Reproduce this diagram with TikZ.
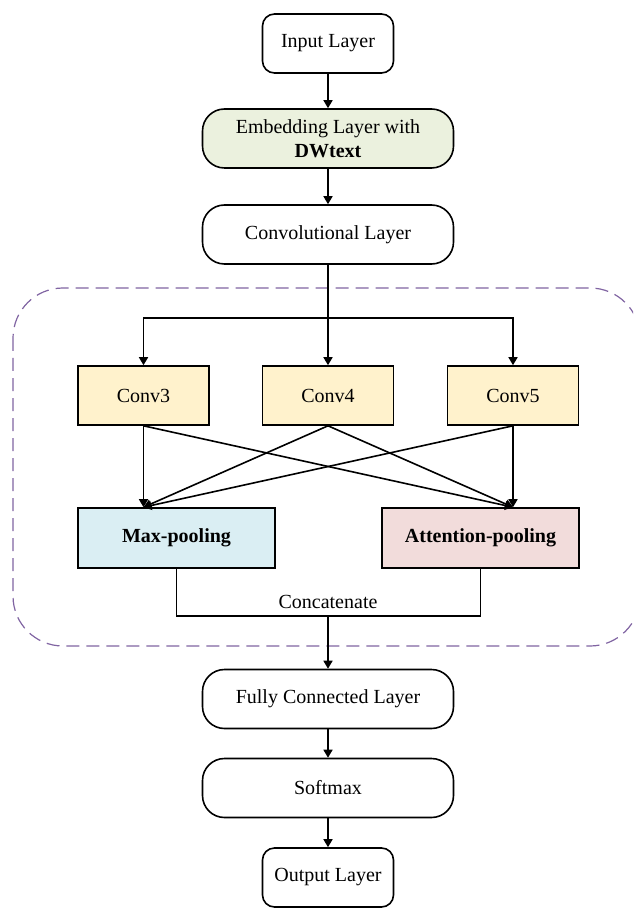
\documentclass[tikz,border=0pt]{standalone}
\usepackage{fontspec}
\setmainfont{Liberation Serif}
\usetikzlibrary{arrows.meta}
\definecolor{embfill}{HTML}{EBF1DE}
\definecolor{convfill}{HTML}{FFF2CC}
\definecolor{maxfill}{HTML}{DAEEF3}
\definecolor{attfill}{HTML}{F2DCDB}
\definecolor{grpline}{HTML}{8064A2}
\tikzset{
	layer/.style = {draw, line width=0.8pt, rounded corners=11pt, minimum width=125.5pt, minimum height=29.5pt, inner sep=0pt, align=center},
	io/.style = {draw, line width=0.8pt, rounded corners=6pt, minimum width=65.5pt, minimum height=29.5pt, inner sep=0pt},
	convbox/.style = {draw, line width=0.8pt, fill=convfill, minimum width=65.5pt, minimum height=29.5pt, inner sep=0pt},
	poolbox/.style = {draw, line width=0.8pt, minimum width=98.5pt, minimum height=30pt, inner sep=0pt, font=\bfseries},
	link/.style = {line width=0.8pt}
}
\begin{document}
\begin{tikzpicture}[x=0.5pt, y=-0.5pt, >={Triangle[length=4pt,width=4.5pt]}, font=\fontsize{10pt}{12pt}\selectfont]
				\clip (0,0) rectangle (633,908);
				%dashed group
				\draw[grpline, line width=0.6pt, dash pattern=on 6.5pt off 3.5pt, rounded corners=25pt] (13,288) rectangle (640,646);
				%layers
				\node[io] (input) at (328,43.5) {Input Layer};
				\node[layer, fill=embfill] (emb) at (328,138.5) {Embedding Layer with\\\textbf{DWtext}};
				\node[layer] (conv) at (328,234.5) {Convolutional Layer};
				\node[convbox] (conv3) at (143.5,395.5) {Conv3};
				\node[convbox] (conv4) at (328,395.5) {Conv4};
				\node[convbox] (conv5) at (513,395.5) {Conv5};
				\node[poolbox, fill=maxfill] (maxp) at (176.5,538) {Max-pooling};
				\node[poolbox, fill=attfill] (attp) at (480.5,538) {Attention-pooling};
				\node[layer] (fc) at (328,699) {Fully Connected Layer};
				\node[layer] (soft) at (328,788) {Softmax};
				\node[io] (out) at (328,877.5) {Output Layer};
				\coordinate (split) at (328,318);
				\coordinate (cat) at (328,616);
				%main line
				\draw[link, ->] (input) -- (emb);
				\draw[link, ->] (emb) -- (conv);
				\draw[link, ->] (conv) -- (conv4);
				\draw[link, ->] (split) -| (conv3);
				\draw[link, ->] (split) -| (conv5);
				%convs to pooling
				\foreach \c in {conv3, conv4, conv5} {
					\draw[link, ->] (\c.south) -- (maxp.north -| conv3.south);
					\draw[link, ->] (\c.south) -- (attp.north -| conv5.south);
				}
				%concatenate
				\draw[link] (maxp) |- (cat) node[midway, above, xshift=75.75pt] {Concatenate} -| (attp);
				\draw[link, ->] (cat) -- (fc);
				\draw[link, ->] (fc) -- (soft);
				\draw[link, ->] (soft) -- (out);
			\end{tikzpicture}
\end{document}
